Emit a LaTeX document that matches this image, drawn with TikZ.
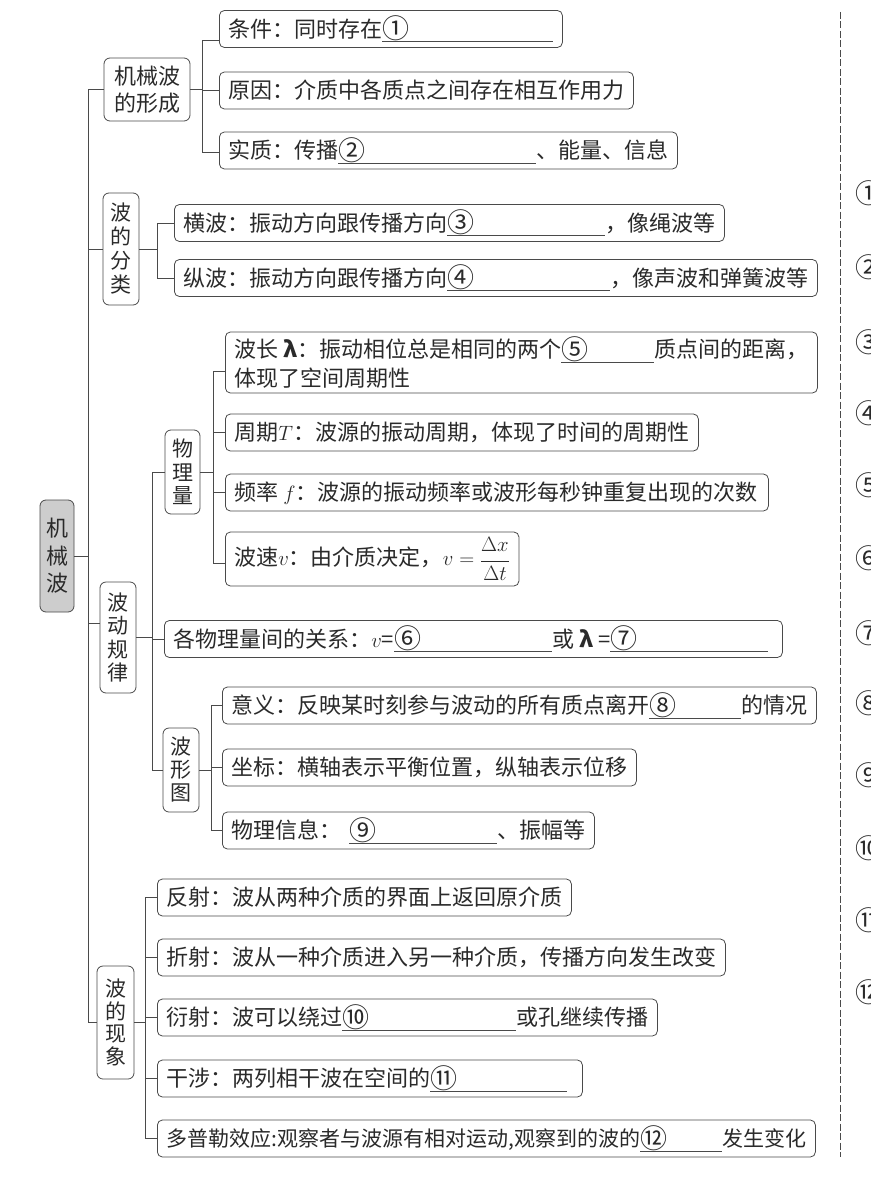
\documentclass[tikz,border=0pt]{standalone}
\usepackage{fontspec}
\newfontfamily\cjk{Noto Sans CJK SC}
\definecolor{linec}{HTML}{4A4A4A}
\definecolor{textc}{HTML}{2A2A2A}
\definecolor{rootc}{HTML}{CDCDCD}
\newcommand\circbig[1]{\raisebox{-1.2pt}{\fontsize{27}{27}\selectfont #1}}
\newcommand\circnum[1]{\setbox0\hbox{\circbig{#1}}\rlap{\color{linec}\rule[-4.5pt]{\wd0}{0.7pt}}\box0}
\newcommand\blankfill{{\color{linec}\leaders\hrule height -3.8pt depth 4.5pt\hskip 0pt plus 1fill}\relax}
\newcommand\leafbox[2]{\makebox[#1][l]{#2}}
\tikzset{
  leafbase/.style={draw=linec, line width=0.8pt, rounded corners=5pt, anchor=west,
    inner xsep=9pt, inner ysep=0pt, text=textc, font=\cjk\fontsize{22}{29}\selectfont},
  leaf/.style={leafbase, minimum height=37pt, text height=19pt, text depth=2.2pt},
  vbox/.style={draw=linec, line width=0.8pt, rounded corners=6pt, inner sep=0pt,
    align=center, text=textc},
  conn/.style={draw=linec, line width=0.9pt},
  num/.style={anchor=west, inner sep=0pt, text=textc, font=\cjk\fontsize{27}{27}\selectfont}
}
\begin{document}
\begin{tikzpicture}[x=1pt,y=-1pt]
\useasboundingbox (0,0) rectangle (870,1204);
\fill[white] (0,0) rectangle (870,1204);

% root and first level
\node[vbox, fill=rootc, minimum width=34pt, minimum height=112pt,
  font=\cjk\fontsize{22}{27.5}\selectfont] (root) at (57,556) {机\\械\\波};
\node[vbox, minimum width=86pt, minimum height=63pt,
  font=\cjk\fontsize{22}{27}\selectfont] (f1) at (147,89.5) {机械波\\的形成};
\node[vbox, minimum width=36pt, minimum height=112pt,
  font=\cjk\fontsize{21}{24}\selectfont] (f2) at (121,249) {波\\的\\分\\类};
\node[vbox, minimum width=36pt, minimum height=111pt,
  font=\cjk\fontsize{21}{23.5}\selectfont] (f3) at (118,637.5) {波\\动\\规\\律};
\node[vbox, minimum width=37pt, minimum height=113pt,
  font=\cjk\fontsize{21}{22.5}\selectfont] (f4) at (115.5,1022.5) {波\\的\\现\\象};

% second level vertical boxes
\node[vbox, minimum width=35pt, minimum height=84pt,
  font=\cjk\fontsize{21}{23.5}\selectfont] (pq) at (182.5,472) {物\\理\\量};
\node[vbox, minimum width=36pt, minimum height=84pt,
  font=\cjk\fontsize{21}{23}\selectfont] (wf) at (181,770) {波\\形\\图};

% leaves of f1
\node[leaf] (c1) at (219,29) {\leafbox{325pt}{条件：同时存在\circnum{①}\blankfill}};
\node[leaf] (c2) at (219,90.5) {原因：介质中各质点之间存在相互作用力};
\node[leaf] (c3) at (219,150.5) {\leafbox{440pt}{实质：传播\circnum{②}\blankfill、能量、信息}};

% leaves of f2
\node[leaf] (t1) at (174,223) {\leafbox{532pt}{横波：振动方向跟传播方向\circnum{③}\blankfill，像绳波等}};
\node[leaf] (t2) at (174,278) {\leafbox{625pt}{纵波：振动方向跟传播方向\circnum{④}\blankfill，像声波和弹簧波等}};

% leaves of pq
\node[leafbase, minimum height=61pt, align=left] (p1) at (225,362.5)
  {\leafbox{574pt}{波长 \textbf{λ}：振动相位总是相同的两个\circnum{⑤}\blankfill 质点间的距离，}\\体现了空间周期性};
\node[leaf] (p2) at (225,432.5) {\leafbox{455pt}{周期$T$：波源的振动周期，体现了时间的周期性}};
\node[leaf] (p3) at (225,492.5) {\leafbox{525pt}{频率 $f$：波源的振动频率或波形每秒钟重复出现的次数}};
\node[leafbase, minimum height=54pt] (p4) at (225,559)
  {波速$v$：由介质决定，$v=\displaystyle\frac{\Delta x}{\Delta t}$};

% relation
\node[leaf] (rel) at (164,639) {\leafbox{600pt}{各物理量间的关系：$v$=\circnum{⑥}\blankfill 或 \textbf{λ} =\circnum{⑦}\blankfill\hspace{5pt}}};

% leaves of wf
\node[leaf] (g1) at (222,705.5) {\leafbox{576pt}{意义：反映某时刻参与波动的所有质点离开\circnum{⑧}\blankfill 的情况}};
\node[leaf] (g2) at (222,767.5) {坐标：横轴表示平衡位置，纵轴表示位移};
\node[leaf] (g3) at (222,830.5) {\leafbox{354pt}{物理信息：\hspace{8pt}\circnum{⑨}\blankfill、振幅等}};

% leaves of f4
\node[leaf] (x1) at (157,897.5) {反射：波从两种介质的界面上返回原介质};
\node[leaf] (x2) at (157,957.5) {折射：波从一种介质进入另一种介质，传播方向发生改变};
\node[leaf] (x3) at (157,1017.5) {\leafbox{482pt}{衍射：波可以绕过\circnum{⑩}\blankfill 或孔继续传播}};
\node[leaf] (x4) at (157,1078.5) {\leafbox{407pt}{干涉：两列相干波在空间的\circnum{⑪}\blankfill\hspace{6pt}}};
\node[leaf, font=\cjk\fontsize{21}{26}\selectfont] (x5) at (157,1138.5)
  {\leafbox{640pt}{多普勒效应:观察者与波源有相对运动,观察到的波的\circnum{⑫}\blankfill 发生变化}};

% connectors: root
\draw[conn] (root.east) -- ++(14,0) |- (f1.west);
\draw[conn] (root.east) -- ++(14,0) |- (f2.west);
\draw[conn] (root.east) -- ++(14,0) |- ([yshift=14.5pt]f3.west);
\draw[conn] (root.east) -- ++(14,0) |- (f4.west);
% f1
\draw[conn] (f1.east) -- ++(12,0) |- ([yshift=-11pt]c1.west);
\draw[conn] (f1.east) -- ++(12,0) |- (c2.west);
\draw[conn] (f1.east) -- ++(12,0) |- ([yshift=-1.5pt]c3.west);
% f2
\draw[conn] (f2.east) -- ++(18,0) |- (t1.west);
\draw[conn] (f2.east) -- ++(18,0) |- (t2.west);
% f3
\draw[conn] (f3.east) -- ++(16,0) |- (pq.west);
\draw[conn] (f3.east) -- ++(16,0) |- (rel.west);
\draw[conn] (f3.east) -- ++(16,0) |- (wf.west);
% pq
\draw[conn] (pq.east) -- ++(13,0) |- ([yshift=-8.5pt]p1.west);
\draw[conn] (pq.east) -- ++(13,0) |- (p2.west);
\draw[conn] (pq.east) -- ++(13,0) |- (p3.west);
\draw[conn] (pq.east) -- ++(13,0) |- ([yshift=-4pt]p4.west);
% wf
\draw[conn] (wf.east) -- ++(12,0) |- (g1.west);
\draw[conn] (wf.east) -- ++(12,0) |- (g2.west);
\draw[conn] (wf.east) -- ++(12,0) |- (g3.west);
% f4
\draw[conn] (f4.east) -- ++(11,0) |- (x1.west);
\draw[conn] (f4.east) -- ++(11,0) |- (x2.west);
\draw[conn] (f4.east) -- ++(11,0) |- (x3.west);
\draw[conn] (f4.east) -- ++(11,0) |- (x4.west);
\draw[conn] (f4.east) -- ++(11,0) |- (x5.west);

% dashed separator and answer numbers
\draw[linec, line width=0.9pt, dash pattern=on 7pt off 2.5pt] (840,12) -- (840,1157);
\node[num] (n1) at (855,193) {①};
\node[num] (n2) at (855,267) {②};
\node[num] (n3) at (855,342) {③};
\node[num] (n4) at (855,413) {④};
\node[num] (n5) at (855,485) {⑤};
\node[num] (n6) at (855,558) {⑥};
\node[num] (n7) at (855,633) {⑦};
\node[num] (n8) at (855,703) {⑧};
\node[num] (n9) at (855,775) {⑨};
\node[num] (n10) at (855,848) {⑩};
\node[num] (n11) at (855,920) {⑪};
\node[num] (n12) at (855,992) {⑫};
\end{tikzpicture}
\end{document}
